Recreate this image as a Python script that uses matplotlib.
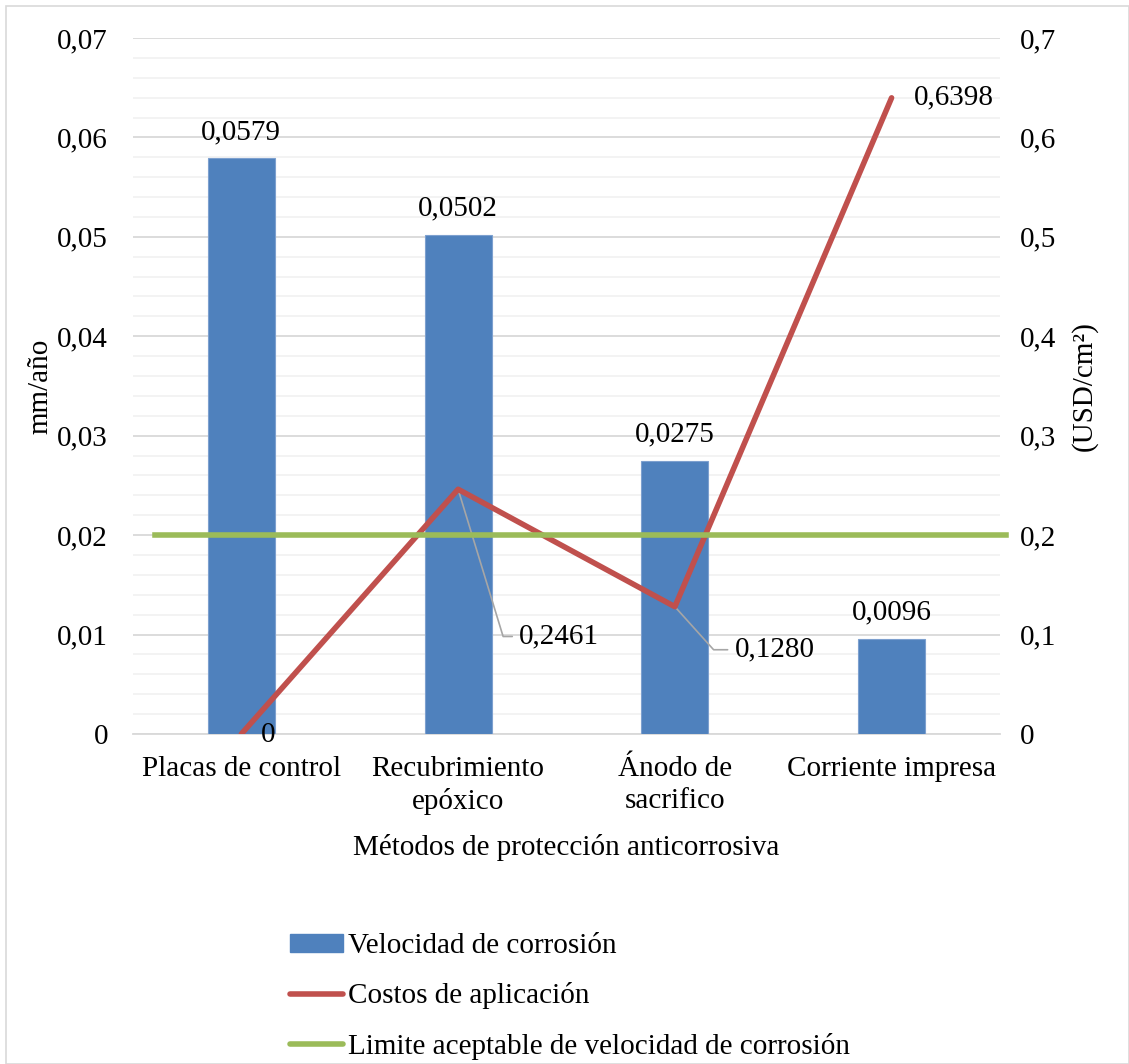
import numpy as np
import matplotlib
matplotlib.use("Agg")
import matplotlib.pyplot as plt
from matplotlib.ticker import MultipleLocator, FuncFormatter
from matplotlib.patches import Rectangle, Patch
from matplotlib.lines import Line2D

plt.rcParams['font.family'] = ['Liberation Serif', 'DejaVu Serif']
plt.rcParams['font.size'] = 21

# Data
metodos = ['Placas de control', 'Recubrimiento\nepóxico', 'Ánodo de\nsacrifico', 'Corriente impresa']
velocidad = [0.0579, 0.0502, 0.0275, 0.0096]      # mm/año
costos = [0.0, 0.2461, 0.1280, 0.6398]              # USD/cm²
limite = 0.02                                       # mm/año

azul = '#4F81BD'
rojo = '#C0504D'
verde = '#9BBB59'
fs = 21

def coma(v, dec):
    return ('{:.%df}' % dec).format(v).replace('.', ',')

fig = plt.figure(figsize=(11.29, 10.64), dpi=100)
ax = fig.add_axes([0.1178, 0.3102, 0.7679, 0.6541])
ax2 = ax.twinx()

x = np.arange(len(metodos))
ax.bar(x, velocidad, width=0.31, color=azul, edgecolor='#7DA0CF', linewidth=0.8, zorder=3)
for xi, v in zip(x, velocidad):
    ax.annotate(coma(v, 4), (xi, v), xytext=(0, 19), textcoords='offset points',
                ha='center', va='center', fontsize=fs)

ax.set_xlim(-0.5, len(metodos) - 0.5)
ax.set_ylim(0, 0.07)
ax.yaxis.set_major_locator(MultipleLocator(0.01))
ax.yaxis.set_minor_locator(MultipleLocator(0.002))
ax.yaxis.set_major_formatter(FuncFormatter(lambda v, p: '0' if v == 0 else coma(v, 2)))
ax.grid(axis='y', which='major', color='#D9D9D9', linewidth=1.3, zorder=0)
ax.grid(axis='y', which='minor', color='#F2F2F2', linewidth=1.3, zorder=0)
ax.set_axisbelow(True)
ax.set_xticks(x)
ax.set_xticklabels(metodos, linespacing=1.3)
ax.tick_params(axis='both', which='both', length=0, labelsize=fs)
ax.tick_params(axis='y', pad=18)
ax.tick_params(axis='x', pad=16)
for s in ['top', 'left', 'right']:
    ax.spines[s].set_visible(False)
ax.spines['bottom'].set_color('#D9D9D9')
ax.spines['bottom'].set_linewidth(1.3)
ax.set_ylabel('mm/año', fontsize=fs, labelpad=3)
ax.set_xlabel('Métodos de protección anticorrosiva', fontsize=fs, labelpad=13)

# Secondary axis: costs
ax2.set_ylim(0, 0.7)
ax2.yaxis.set_major_locator(MultipleLocator(0.1))
ax2.yaxis.set_major_formatter(FuncFormatter(lambda v, p: '0' if v == 0 else coma(v, 1)))
ax2.tick_params(axis='y', length=0, pad=14, labelsize=fs)
for s in ['top', 'left', 'right', 'bottom']:
    ax2.spines[s].set_visible(False)
ax2.set_ylabel('(USD/cm²)', fontsize=fs, rotation=90, labelpad=11)

ax2.plot(x, costos, color=rojo, linewidth=4, solid_capstyle='round', zorder=4)

# acceptable corrosion-rate limit, drawn across the plot area
ax2.plot([-0.4, 3.53], [limite * 10, limite * 10], color=verde, linewidth=4,
         zorder=5, clip_on=False)

# Cost labels
ax2.annotate(coma(costos[0], 0), (x[0], costos[0]), xytext=(14, -1),
             textcoords='offset points', ha='left', va='center', fontsize=fs)
ax2.annotate(coma(costos[3], 4), (x[3], costos[3]), xytext=(16, 0),
             textcoords='offset points', ha='left', va='center', fontsize=fs)
ax2.annotate(coma(costos[1], 4), (x[1], costos[1]), xytext=(44, -106),
             textcoords='offset points', ha='left', va='center', fontsize=fs,
             arrowprops=dict(arrowstyle='-', color='#A6A6A6', lw=1.2, shrinkA=3, shrinkB=0,
                             relpos=(0, 0.5), connectionstyle='angle,angleA=0,angleB=-73'))
ax2.annotate(coma(costos[2], 4), (x[2], costos[2]), xytext=(43, -31),
             textcoords='offset points', ha='left', va='center', fontsize=fs,
             arrowprops=dict(arrowstyle='-', color='#A6A6A6', lw=1.2, shrinkA=3, shrinkB=0,
                             relpos=(0, 0.5), connectionstyle='angle,angleA=0,angleB=-48'))

# Legend
handles = [Patch(facecolor=azul, edgecolor=azul),
           Line2D([], [], color=rojo, linewidth=4, solid_capstyle='round'),
           Line2D([], [], color=verde, linewidth=4, solid_capstyle='round')]
labels = ['Velocidad de corrosión', 'Costos de aplicación',
          'Limite aceptable de velocidad de corrosión']
fig.legend(handles, labels, loc='upper left', bbox_to_anchor=(0.257, 0.123),
           frameon=False, fontsize=fs, handlelength=1.8, handleheight=0.6,
           handletextpad=0.2, labelspacing=0.8, borderaxespad=0, borderpad=0)

fig.patches.append(Rectangle((0.005, 0.0), 0.995, 0.994, transform=fig.transFigure,
                             fill=False, edgecolor='#D9D9D9', linewidth=1.2))

fig.savefig('out.png', dpi=100)
